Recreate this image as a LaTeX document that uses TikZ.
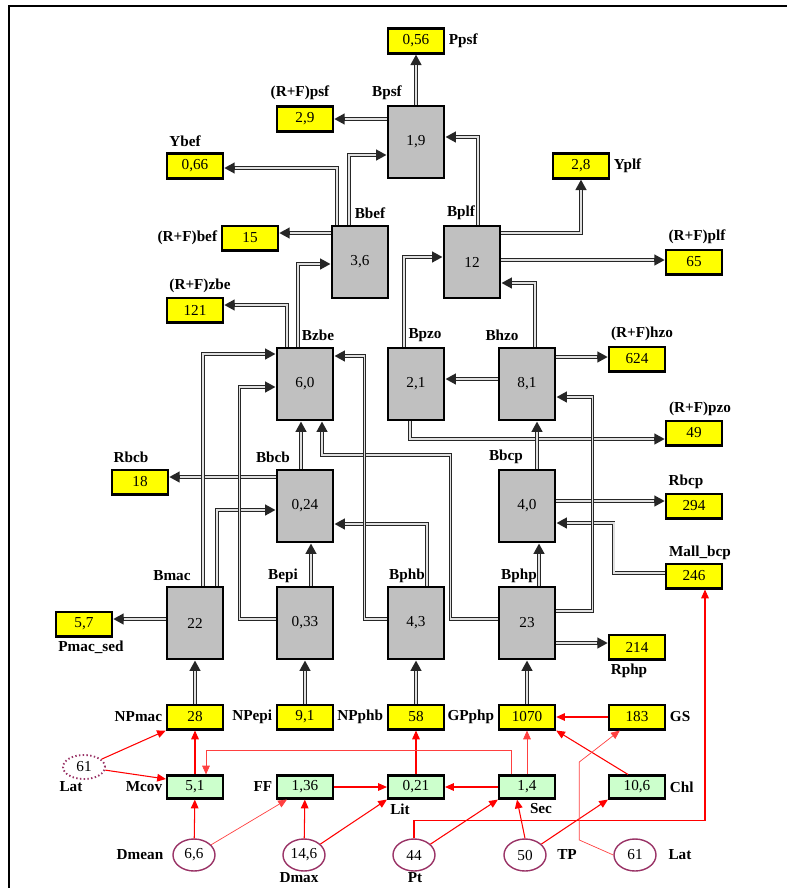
\documentclass[tikz,border=0pt]{standalone}
\usepackage{fontspec}
\setmainfont{Liberation Serif}
\usetikzlibrary{
  arrows.meta,
  positioning,
  calc,
  shapes.geometric
}
\definecolor{bmBox}{HTML}{C0C0C0}
\definecolor{bmOut}{HTML}{FFFF00}
\definecolor{bmEnv}{HTML}{CCFFCC}
\definecolor{bmDrv}{HTML}{993366}
\definecolor{bmRed}{HTML}{FF0000}
\tikzset{
  bmnode/.style={
    draw, line width=2pt, inner sep=0pt, align=center,
    font=\fontsize{13}{15}\selectfont
  },
  biomass/.style={bmnode, fill=bmBox, line width=2.4pt, minimum width=1.68cm, minimum height=2.16cm},
  outbox/.style={bmnode, fill=bmOut, minimum width=1.68cm, minimum height=0.74cm},
  envbox/.style={bmnode, fill=bmEnv, line width=1.8pt, minimum width=1.68cm, minimum height=0.69cm},
  driver/.style={ellipse, draw=bmDrv, line width=1.2pt, minimum width=1.26cm, minimum height=0.96cm,
    inner sep=0pt, font=\fontsize{13}{15}\selectfont},
  tag/.style={font=\fontsize{13}{15}\selectfont\bfseries, inner sep=1pt},
  transfer/.style={draw=black!85, line width=2.8pt, -{Triangle[length=9pt,width=9pt]},
    postaction={draw=black!12, line width=1.3pt, -, shorten >=9pt}},
  effect/.style={draw=bmRed, line width=0.9pt, -{Triangle[length=7.5pt,width=6.5pt]}},
  weakeffect/.style={effect, draw=bmRed!75, line width=0.6pt}
}

\begin{document}
\begin{tikzpicture}[x=0.03cm, y=-0.03cm]
  \useasboundingbox (0,0) rectangle (787,888);
  \draw[line width=1.5pt] (9,888) -- (9,6) -- (787,6);

  % biomass compartments
  \node[biomass] (bpsf) at (416,142) {1,9};
  \node[biomass] (bbef) at (360,262) {3,6};
  \node[biomass] (bplf) at (472,262) {12};
  \node[biomass] (bzbe) at (305,384) {6,0};
  \node[biomass] (bpzo) at (416,384) {2,1};
  \node[biomass] (bhzo) at (527,384) {8,1};
  \node[biomass] (bbcb) at (305,506) {0,24};
  \node[biomass] (bbcp) at (527,506) {4,0};
  \node[biomass] (bmac) at (195,623) {22};
  \node[biomass] (bepi) at (305,623) {0,33};
  \node[biomass] (bphb) at (416,623) {4,3};
  \node[biomass] (bphp) at (527,623) {23};
  \node[tag] (lbpsf) at (387,93) {Bpsf};
  \node[tag] (lbbef) at (370,213) {Bbef};
  \node[tag] (lbplf) at (461,213) {Bplf};
  \node[tag] (lbzbe) at (318,335) {Bzbe};
  \node[tag] (lbpzo) at (425,335) {Bpzo};
  \node[tag] (lbhzo) at (502,335) {Bhzo};
  \node[tag] (lbbcb) at (273,457) {Bbcb};
  \node[tag] (lbbcp) at (506,457) {Bbcp};
  \node[tag] (lbmac) at (172,576) {Bmac};
  \node[tag] (lbepi) at (283,576) {Bepi};
  \node[tag] (lbphb) at (407,576) {Bphb};
  \node[tag] (lbphp) at (519,576) {Bphp};

  % outputs
  \node[outbox] (ppsf) at (416,41) {0,56};
  \node[outbox] (rfpsf) at (305,119) {2,9};
  \node[outbox] (ybef) at (195,166) {0,66};
  \node[outbox] (rfbef) at (250,238) {15};
  \node[outbox] (rfzbe) at (195,310) {121};
  \node[outbox] (yplf) at (581,166) {2,8};
  \node[outbox] (rfplf) at (694,262) {65};
  \node[outbox] (rfhzo) at (637,359) {624};
  \node[outbox] (rfpzo) at (694,433) {49};
  \node[outbox] (rbcb) at (140,482) {18};
  \node[outbox] (rbcp) at (694,506) {294};
  \node[outbox] (mallbcp) at (694,576) {246};
  \node[outbox] (rphp) at (637,647) {214};
  \node[outbox] (pmacsed) at (84,624) {5,7};
  \node[tag, right=2pt of ppsf] (lppsf) {Ppsf};
  \node[tag] (lrfpsf) at (300,93) {(R+F)psf};
  \node[tag] (lybef) at (185,141) {Ybef};
  \node[tag, left=2pt of rfbef] (lrfbef) {(R+F)bef};
  \node[tag] (lrfzbe) at (200,286) {(R+F)zbe};
  \node[tag, right=2pt of yplf] (lyplf) {Yplf};
  \node[tag] (lrfplf) at (697,237) {(R+F)plf};
  \node[tag] (lrfhzo) at (642,334) {(R+F)hzo};
  \node[tag] (lrfpzo) at (700,409) {(R+F)pzo};
  \node[tag] (lrbcb) at (131,457) {Rbcb};
  \node[tag] (lrbcp) at (686,482) {Rbcp};
  \node[tag] (lmallbcp) at (700,553) {Mall\_bcp};
  \node[tag] (lrphp) at (629,671) {Rphp};
  \node[tag] (lpmacsed) at (91,647) {Pmac\_sed};

  % production inputs
  \node[outbox] (npmac) at (195,717) {28};
  \node[outbox] (npepi) at (305,717) {9,1};
  \node[outbox] (npphb) at (416,717) {58};
  \node[outbox] (gpphp) at (527,717) {1070};
  \node[outbox] (gs) at (637,717) {183};
  \node[tag, left=2pt of npmac] (lnpmac) {NPmac};
  \node[tag, left=2pt of npepi] (lnpepi) {NPepi};
  \node[tag, left=2pt of npphb] (lnpphb) {NPphb};
  \node[tag, left=2pt of gpphp] (lgpphp) {GPphp};
  \node[tag, right=2pt of gs] (lgs) {GS};

  % environment
  \node[envbox] (mcov) at (195,787) {5,1};
  \node[envbox] (ff) at (305,787) {1,36};
  \node[envbox] (lit) at (416,787) {0,21};
  \node[envbox] (sec) at (527,787) {1,4};
  \node[envbox] (chl) at (637,787) {10,6};
  \node[tag, left=2pt of mcov] (lmcov) {Mcov};
  \node[tag, left=2pt of ff] (lff) {FF};
  \node[tag] (llit) at (400,809) {Lit};
  \node[tag] (lsec) at (541,809) {Sec};
  \node[tag, right=2pt of chl] (lchl) {Chl};

  % drivers
  \node[driver] (dmean) at (194,855) {6,6};
  \node[driver] (dmax) at (304,855) {14,6};
  \node[driver] (pt) at (414,855) {44};
  \node[driver] (tp) at (525,855) {50};
  \node[driver] (latb) at (635,855) {61};
  \node[driver, dotted, line width=1.6pt, minimum height=0.72cm] (latl) at (84,767) {61};
  \node[tag] (ldmean) at (140,855) {Dmean};
  \node[tag] (ldmax) at (299,878) {Dmax};
  \node[tag] (lpt) at (415,878) {Pt};
  \node[tag] (ltp) at (567,855) {TP};
  \node[tag] (llatb) at (680,855) {Lat};
  \node[tag] (llatl) at (71,787) {Lat};

  % biomass flows
  \draw[transfer] (bpsf.north) -- (ppsf.south);
  \draw[transfer] (bpsf.west |- rfpsf.east) -- (rfpsf.east);
  \draw[transfer] ($(bbef.north)+(-11,0)$) |- ($(bpsf.west)+(0,13)$);
  \draw[transfer] ($(bplf.north)+(6,0)$) |- ($(bpsf.east)+(0,-5)$);
  \draw[transfer] ($(bbef.north)+(-23,0)$) |- ($(ybef.east)+(0,2)$);
  \draw[transfer] ($(bbef.west)+(0,-29)$) -- ($(rfbef.east)+(0,-5)$);
  \draw[transfer] ($(bzbe.north)+(-7,0)$) |- ($(bbef.west)+(0,2)$);
  \draw[transfer] ($(bzbe.north)+(-18,0)$) |- ($(rfzbe.east)+(0,-5)$);
  \draw[transfer] ($(bpzo.north)+(-12,0)$) |- ($(bplf.west)+(0,-5)$);
  \draw[transfer] ($(bhzo.north)+(8,0)$) |- ($(bplf.east)+(0,21)$);
  \draw[transfer] ($(bplf.east)+(0,-29)$) -| (yplf.south);
  \draw[transfer] ($(bplf.east)+(0,-2)$) -- ($(rfplf.west)+(0,-2)$);
  \draw[transfer] ($(bhzo.east)+(0,-27)$) -- ($(rfhzo.west)+(0,-2)$);
  \draw[transfer] ($(bhzo.west)+(0,-5)$) -- ($(bpzo.east)+(0,-5)$);
  \draw[transfer] ($(bpzo.south)+(-6,0)$) |- ($(rfpzo.west)+(0,6)$);
  \draw[transfer] ($(bbcp.north)+(10,0)$) -- ($(bhzo.south)+(10,0)$);
  \draw[transfer] ($(bbcp.east)+(0,-5)$) -- ($(rbcp.west)+(0,-5)$);
  \draw[transfer] ($(mallbcp.west)+(0,-3)$) -- ++(-51,0) |- ($(bbcp.east)+(0,17)$);
  \draw[transfer] ($(bphp.east)+(0,-12)$) -- ++(36,0) |- ($(bhzo.east)+(0,13)$);
  \draw[transfer] ($(bphp.north)+(12,0)$) -- ($(bbcp.south)+(12,0)$);
  \draw[transfer] ($(bphp.east)+(0,20)$) -- ($(rphp.west)+(0,-4)$);
  \draw[transfer] ($(bphp.west)+(0,-4)$) -- ++(-47,0) -- ++(0,-164) -| ($(bzbe.south)+(17,0)$);
  \draw[transfer] ($(bbcb.north)+(-4,0)$) -- ($(bzbe.south)+(-4,0)$);
  \draw[transfer] ($(bbcb.west)+(0,-29)$) -- ($(rbcb.east)+(0,-5)$);
  \draw[transfer] ($(bepi.north)+(6,0)$) -- ($(bbcb.south)+(6,0)$);
  \draw[transfer] ($(bphb.north)+(11,0)$) |- ($(bbcb.east)+(0,18)$);
  \draw[transfer] ($(bmac.north)+(22,0)$) |- ($(bbcb.west)+(0,4)$);
  \draw[transfer] ($(bmac.north)+(8,0)$) |- ($(bzbe.west)+(0,-30)$);
  \draw[transfer] ($(bepi.west)+(0,-4)$) -- ++(-36,0) |- ($(bzbe.west)+(0,3)$);
  \draw[transfer] ($(bphb.west)+(0,-4)$) -- ++(-22,0) |- ($(bzbe.east)+(0,-28)$);
  \draw[transfer] ($(bmac.west)+(0,-4)$) -- ($(pmacsed.east)+(0,-5)$);
  \draw[transfer] (npmac.north) -- (bmac.south);
  \draw[transfer] (npepi.north) -- (bepi.south);
  \draw[transfer] (npphb.north) -- (bphb.south);
  \draw[transfer] (gpphp.north) -- (bphp.south);

  % environmental effects
  \draw[effect] (latl) -- (npmac.south west);
  \draw[effect] (latl) -- ($(mcov.west)+(0,-8)$);
  \draw[effect] (mcov) -- (npmac);
  \draw[effect] (dmean) -- (mcov);
  \draw[weakeffect] (dmean) -- ($(ff.south west)+(11,0)$);
  \draw[effect] (dmax) -- (ff);
  \draw[effect] (dmax) -- (lit.south west);
  \draw[effect] (ff) -- (lit);
  \draw[effect] (sec) -- (lit);
  \draw[effect] (lit) -- (npphb);
  \draw[weakeffect] ($(sec.north)+(-16,0)$) -- ++(0,-24) -| ($(mcov.north)+(11,0)$);
  \draw[weakeffect] (sec) -- (gpphp);
  \draw[effect] (gs) -- (gpphp);
  \draw[effect] ($(chl.north)+(-9,0)$) -- (gpphp.south east);
  \draw[effect] (pt) -- (sec.south west);
  \draw[effect] (pt.north) -- ++(0,-18) -| ($(mallbcp.south)+(11,0)$);
  \draw[effect] (tp.north) -- ($(sec.south)+(-10,0)$);
  \draw[effect] (tp) -- (chl.south west);
  \draw[weakeffect] (latb.west) -- ++(-34,-15) -- ++(0,-78) -- ($(gs.south west)+(12,0)$);
\end{tikzpicture}
\end{document}
